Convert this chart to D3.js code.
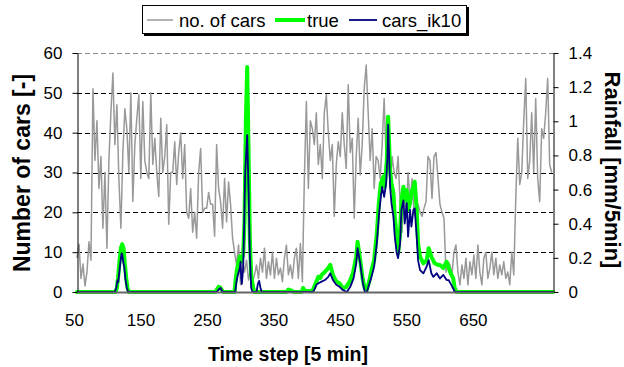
<!DOCTYPE html>
<html>
<head>
<meta charset="utf-8">
<script src="https://cdn.jsdelivr.net/npm/d3@7"></script>
<style>
  body { margin: 0; background: #fff; }
  svg { display: block; font-family: "Liberation Sans", Arial, sans-serif; }
</style>
</head>
<body>
<div id="chart"></div>
<script>
// Time steps of the noisy car count series (every 3rd step)
const carsStart = 50, carsStep = 3;
const carsValues = [
  8.5, 12, 3.4, 7, 1.5, 5, 12.6, 8,
  51, 33, 43, 26, 34, 16, 30, 11, 33, 45, 55, 37, 47, 28.5, 16, 35, 46, 41, 30, 50, 22.7, 37,
  43.6, 49.5, 28.5, 47.8, 33, 30, 28.5, 50, 32, 38.6, 30, 24, 43.6, 30, 34, 42, 17, 30, 30, 37.7,
  27, 35, 40, 28.5, 37, 20, 18.5, 26, 15, 20, 13.5, 30, 36, 20, 21, 21, 25, 22, 22, 14,
  37, 26, 22.7, 16, 28.5, 17.6, 27.6, 22, 13.5,
  10, 6.8, 11.8, 1.8, 7.6, 5, 8, 3, 6, 2.5, 4.3, 6.8, 3.4, 8.5, 5, 11, 3.4, 7.6, 4.3, 10,
  3.4, 8.5, 4.3, 6, 2.6, 8.5, 11.8, 4.3, 6.8, 3.4, 8.5, 11, 3.4, 12.2, 2.6,
  28.5, 47.8, 26, 43, 41, 37, 45, 32, 37, 28.5, 45, 49.5, 40, 33, 37, 19, 32, 37.7, 34, 45,
  37, 31, 52, 35, 38.6, 18.5, 34, 43.6, 29.4, 37, 51, 57, 45, 33, 41, 26, 34, 33, 28.5, 37,
  48.6, 33, 39.4, 26, 34, 30, 28.5, 34, 22.7, 15, 26, 18.5, 30, 22.7, 28.5, 20, 18.5, 22, 20, 19,
  21, 22.7, 34, 33, 23.5, 34, 35, 28.5, 22, 20, 18.5,
  5, 7.6, 6.8, 4.3, 10, 11.8, 5, 1.8, 6.8, 3.4, 8.5, 1.8, 7.6, 4.3, 9.3, 3.4, 11.8, 5, 1.8, 8.5,
  10, 3.4, 6, 10, 4.3, 8.5, 3.4, 6.8, 4.3, 7.6, 3.4, 5, 1.8, 10, 4.3,
  23.5, 38.6, 27, 30, 43, 53.6, 28.5, 33, 45, 30, 48.6, 28.5, 22.7, 41, 38.6, 45, 53.6, 32, 30
];

// "true" series
const trueSteps = [50,108,110,112,114,116,118,120,122,124,126,128,258,263,266,270,
  287,288,290,292,295,297,300,302,304,306,308,310,312,315,317,365,368,372,376,388,390,393,404,
  406,408,410,413,416,418,423,428,431,435,440,445,450,455,460,465,470,472,476,480,483,486,490,
  493,497,501,504,507,511,513,516,518,521,523,526,528,531,533,536,538,541,543,546,548,551,553,
  556,558,561,563,566,571,576,579,583,588,593,596,601,606,611,616,618,621,766];
const trueValues = [0,0,1,4,8,11,12,11,7,3.5,1,0,0,1.3,1,0,
  0,2,5,6.8,8.9,7.6,9.4,18,43,56.5,36,13.5,4.3,1,0,0,0.6,0.4,0,0,1,0.3,0.2,
  1,1.8,2.6,3.8,3.5,4.3,5.1,6,6.8,4.3,2.6,2.2,0.9,1.3,2.6,4.7,8.9,12.6,8,3,0.9,0.5,3,
  5.5,8,14.7,22.3,27.3,29,26.4,33,44,30.6,27.3,24.8,18.9,13.9,9.7,14.7,23,26.4,23,25.6,20.6,22.3,24.8,
  26.4,27.7,20.6,12.2,8.9,7.2,8,11,8.9,7.2,6.8,6.8,6,7.6,5.1,3.4,1,0,0];

// "cars_ik10" series
const ik10Steps = [50,107,109,111,112,113,115,117,118,120,121,123,125,127,260,264,266,269,
  288,290,292,295,296,297,298,300,301,303,306,308,310,312,314,320,322,324,326,328,
  405,408,410,413,418,423,428,431,435,440,445,450,456,461,466,470,472,476,480,483,486,490,493,497,
  501,504,507,509,512,515,517,518,521,523,526,528,531,533,536,538,541,543,546,548,551,553,556,558,
  561,563,566,571,576,579,583,586,591,596,601,606,609,613,617,618,766];
const ik10Values = [0,0,1,3,2.5,4,7,9.7,9.5,7,6.4,3,1,0,0,0.8,1,0,
  0,2.7,4.3,6,7.6,3.4,2,6,13.5,30,39.4,26,9.4,1,0,0,2,2.8,1,0,
  0,0.9,1.8,2.2,2.6,3,3.8,4.7,3,1.8,1.3,0.5,0,1.3,3.4,7.2,11,7.2,2.2,0,0,2.2,3.8,6.4,
  12.2,18.9,23.9,26.4,23.9,27.3,34,42,26.4,22.3,18.9,13.9,9.7,8.5,12.2,20.6,23,17.2,22.3,13.9,20.6,16.4,20.6,21,
  13.9,8,5.5,4.7,6.4,8,4.7,3.8,4.7,3.4,4.3,3,3,1.8,0.5,0,0];

const xTicks = [50, 150, 250, 350, 450, 550, 650];
const yTicks = [0, 10, 20, 30, 40, 50, 60];
const rainTicks = [0, 0.2, 0.4, 0.6, 0.8, 1, 1.2, 1.4];
const seriesNames = ["no. of cars", "true", "cars_ik10"];

const width = 624, height = 367;
const plot = { left: 77, right: 553, top: 53, bottom: 292 };

const svg = d3.select("#chart").append("svg")
  .attr("width", width).attr("height", height);
svg.append("rect").attr("width", width).attr("height", height).attr("fill", "#fff");

const x = d3.scaleLinear().domain([50, 766]).range([plot.left, plot.right]);
const y = d3.scaleLinear().domain([0, 60]).range([plot.bottom, plot.top]);
const yRain = d3.scaleLinear().domain([0, 1.4]).range([plot.bottom, plot.top]);

// Dashed gridlines
svg.append("g").selectAll("line")
  .data(yTicks.filter(d => d > 0))
  .enter().append("line")
    .attr("x1", plot.left).attr("x2", plot.right)
    .attr("y1", d => Math.round(y(d)) + 0.5).attr("y2", d => Math.round(y(d)) + 0.5)
    .attr("stroke", d => d === 60 ? "#888" : "#000")
    .attr("stroke-dasharray", "5,3");

// Series data
const carsData = carsValues.map((v, i) => ({ t: carsStart + i * carsStep, v }));
const trueData = trueSteps.map((t, i) => ({ t, v: trueValues[i] }));
const ik10Data = ik10Steps.map((t, i) => ({ t, v: ik10Values[i] }));

const line = d3.line().x(d => x(d.t)).y(d => y(d.v));

svg.append("path").datum(carsData)
  .attr("fill", "none").attr("stroke", "#999").attr("stroke-width", 1.5)
  .attr("stroke-linejoin", "round").attr("d", line);
svg.append("path").datum(trueData)
  .attr("fill", "none").attr("stroke", "#00ff00").attr("stroke-width", 4)
  .attr("stroke-linejoin", "round").attr("stroke-linecap", "round").attr("d", line);
svg.append("path").datum(ik10Data)
  .attr("fill", "none").attr("stroke", "#000080").attr("stroke-width", 1.8)
  .attr("stroke-linejoin", "round").attr("d", line);

// Left axis
const leftAxis = svg.append("g")
  .attr("transform", `translate(${plot.left + 0.5},0)`)
  .call(d3.axisLeft(y).tickValues(yTicks).tickSize(5).tickPadding(10).tickSizeOuter(0));
leftAxis.selectAll("text").style("font-size", "17px").attr("fill", "#000");
leftAxis.select(".domain").attr("stroke", "#000");

// Right axis
const rightAxis = svg.append("g")
  .attr("transform", `translate(${plot.right + 0.5},0)`)
  .call(d3.axisRight(yRain).tickValues(rainTicks).tickSize(5).tickPadding(10).tickSizeOuter(0)
    .tickFormat(d3.format("~g")));
rightAxis.selectAll("text").style("font-size", "17px").attr("fill", "#000");
rightAxis.select(".domain").attr("stroke", "#000");

// Bottom axis
const bottomAxis = svg.append("g")
  .attr("transform", `translate(0,${plot.bottom})`)
  .call(d3.axisBottom(x).tickValues(xTicks).tickSize(0).tickPadding(22).tickSizeOuter(0));
bottomAxis.selectAll("text").style("font-size", "17px").attr("fill", "#000").attr("dx", -3);
bottomAxis.select(".domain").attr("stroke", "#666").attr("stroke-width", 2);

// Axis titles
svg.append("text")
  .attr("transform", "translate(30,173) rotate(-90)")
  .attr("text-anchor", "middle")
  .style("font-size", "23px").style("font-weight", "bold")
  .text("Number of cars [-]");
svg.append("text")
  .attr("transform", "translate(605,170) rotate(90)")
  .attr("text-anchor", "middle")
  .style("font-size", "22px").style("font-weight", "bold")
  .text("Rainfall [mm/5min]");
svg.append("text")
  .attr("x", 288).attr("y", 361)
  .attr("text-anchor", "middle")
  .style("font-size", "19.5px").style("font-weight", "bold")
  .text("Time step [5 min]");

// Legend
const legend = svg.append("g");
legend.append("rect").attr("x", 144).attr("y", 7).attr("width", 325).attr("height", 29).attr("fill", "#000");
legend.append("rect").attr("x", 142.5).attr("y", 5.5).attr("width", 324).attr("height", 28)
  .attr("fill", "#fff").attr("stroke", "#000");
const legendItems = [
  { x1: 147, x2: 173, tx: 179, color: "#999", w: 1.5 },
  { x1: 275, x2: 305, tx: 307, color: "#00ff00", w: 4 },
  { x1: 349, x2: 377, tx: 382, color: "#000080", w: 1.8 }
];
legendItems.forEach((it, i) => {
  legend.append("line").attr("x1", it.x1).attr("x2", it.x2).attr("y1", 20).attr("y2", 20)
    .attr("stroke", it.color).attr("stroke-width", it.w);
  legend.append("text").attr("x", it.tx).attr("y", 27)
    .style("font-size", "18.5px").text(seriesNames[i]);
});
</script>
</body>
</html>
